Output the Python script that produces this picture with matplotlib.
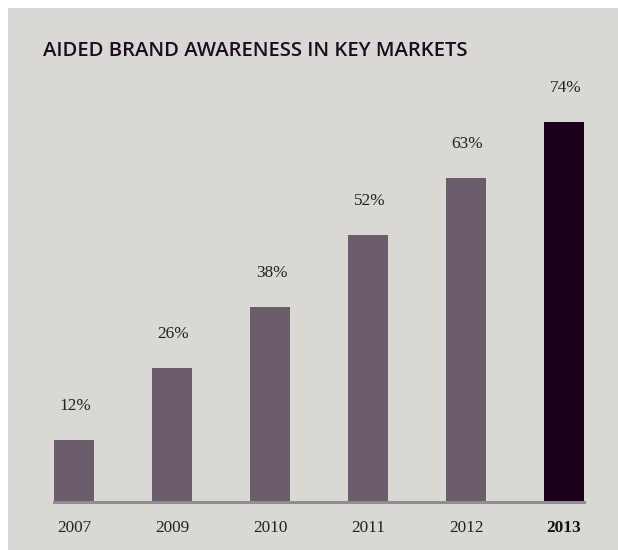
import matplotlib
matplotlib.use("Agg")
import matplotlib.pyplot as plt
from matplotlib.patches import Rectangle

years = ["2007", "2009", "2010", "2011", "2012", "2013"]
awareness = [12, 26, 38, 52, 63, 74]
value_labels = ["12%", "26%", "38%", "52%", "63%", "74%"]
title = "AIDED BRAND AWARENESS IN KEY MARKETS"

W, H, DPI = 618, 550, 100
PX = 72.0 / DPI  # points per pixel

BG = "#d9d8d4"
BAR = "#6b5d6c"
BAR_LAST = "#1a0019"
INK = "#222222"
TITLE_INK = "#1c0c1f"

fig = plt.figure(figsize=(W / DPI, H / DPI), dpi=DPI)
fig.patch.set_facecolor("white")

# grey panel behind the chart
fig.add_artist(Rectangle((8 / W, 0), 1 - 8 / W, 1 - 8 / H,
                         transform=fig.transFigure, facecolor=BG,
                         edgecolor="none", zorder=0))

# axes: bar centres every 98.1 px starting at x=74, baseline at y=501.5
spacing = 98.1
bar_w = 40 / spacing
x0_px, x1_px = 54, 584
base_px = 501.5
px_per_pct = 5.13
ymax = 80
top_px = base_px - ymax * px_per_pct
ax = fig.add_axes([x0_px / W, 1 - base_px / H,
                   (x1_px - x0_px) / W, (base_px - top_px) / H])
ax.set_facecolor("none")
ax.set_xlim(-bar_w / 2, 5 + bar_w / 2)
ax.set_ylim(0, ymax)
for s in ax.spines.values():
    s.set_visible(False)
ax.set_xticks([])
ax.set_yticks([])

xs = list(range(len(years)))
colors = [BAR] * (len(years) - 1) + [BAR_LAST]
ax.bar(xs, awareness, width=bar_w, color=colors, zorder=2)
ax.axhline(0, color="#8e8e8e", linewidth=3 * PX, zorder=3, clip_on=False)

serif = ["Liberation Serif", "DejaVu Serif"]
for x, v, lab in zip(xs, awareness, value_labels):
    ax.annotate(lab, xy=(x, v), xytext=(1.5 * PX, 30 * PX),
                textcoords="offset points", ha="center", va="baseline",
                fontsize=12.4, family=serif, color=INK)

for x, yr in zip(xs, years):
    bold = yr == years[-1]
    ax.annotate(yr, xy=(x, 0), xytext=(0, -31 * PX),
                textcoords="offset points", ha="center", va="baseline",
                fontsize=12.4, family=serif, color="#111111" if bold else INK,
                fontweight="bold" if bold else "normal")

fig.text(43 / W, 1 - 56.5 / H, title, ha="left", va="baseline",
         fontsize=14.6, family=["Open Sans", "DejaVu Sans"],
         fontweight="semibold", color=TITLE_INK)

fig.savefig("out.png", dpi=DPI, facecolor=fig.get_facecolor())
